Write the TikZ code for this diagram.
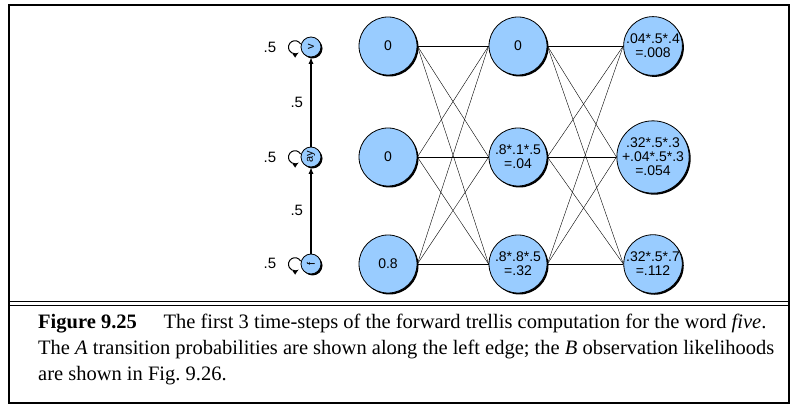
\documentclass[tikz,border=0pt]{standalone}
\usepackage{fontspec}
\setmainfont{Liberation Serif}
\newfontfamily\diagfont{Liberation Sans}
\usetikzlibrary{shadows}
\definecolor{cellblue}{RGB}{153,204,255}
\begin{document}
\begin{tikzpicture}[x=1pt,y=-1pt]
	\tikzset{
		basic/.style={circle,draw=black,fill=cellblue,thick,text centered,
			drop shadow={shadow xshift=1.5pt,shadow yshift=-1.5pt,opacity=1,fill=black},
			font=\diagfont\fontsize{14}{14}\selectfont,inner sep=0pt,align=center},
		bignode/.style={basic,minimum size=58pt},
		smallnode/.style={basic,minimum size=20pt,font=\diagfont\fontsize{11}{11}\selectfont},
		edge/.style={black,line width=0.4pt},
		sarrow/.style={->,>={latex},line width=1.2pt},
		prob/.style={font=\diagfont\fontsize{15}{15}\selectfont}
	}
	\useasboundingbox (0,0) rectangle (800,411);
	\draw[line width=1.5pt] (9,5) rectangle (789,403);
	\draw[line width=1pt] (9,302) -- (789,302);
	\draw[line width=1pt] (9,306) -- (789,306);

	% states
	\node[smallnode] (V)  at (311,47)  {\rotatebox{90}{v}};
	\node[smallnode] (AY) at (311,157) {\rotatebox{90}{ay}};
	\node[smallnode] (F)  at (311,264) {\rotatebox{90}{f}};
	\foreach \s in {V,AY,F}
		\draw[sarrow,line width=1pt] (\s.west) ++(0,-3) arc (-30:-305:6.5);
	\node[prob] at (270,47)  {.5};
	\node[prob] at (270,157) {.5};
	\node[prob] at (270,263) {.5};
	\draw[sarrow] (F) -- (AY) node[prob,midway,left=4pt]{.5};
	\draw[sarrow] (AY) -- (V) node[prob,midway,left=4pt]{.5};

	% trellis
	\node[bignode] (a1) at (388,46)  {0};
	\node[bignode] (b1) at (388,157) {0};
	\node[bignode] (c1) at (388,264) {0.8};
	\node[bignode] (a2) at (518,46)  {0};
	\node[bignode] (b2) at (518,157) {.8*.1*.5\\=.04};
	\node[bignode] (c2) at (518,264) {.8*.8*.5\\=.32};
	\node[bignode] (a3) at (653,46)  {.04*.5*.4\\=.008};
	\node[bignode] (b3) at (653,157) {.32*.5*.3\\+.04*.5*.3\\=.054};
	\node[bignode] (c3) at (653,264) {.32*.5*.7\\=.112};
	\foreach \i/\j in {1/2,2/3}
		\foreach \p in {a,b,c}
			\foreach \q in {a,b,c}
				\draw[edge] (\p\i.east) -- (\q\j.west);

	% caption
	\node[anchor=north west,align=left,inner sep=0pt,
		font=\fontsize{20.5}{26}\selectfont] (cap) at (38,314)
		{\textbf{Figure 9.25}\hspace{1.3em}The first 3 time-steps of the forward trellis computation for the word \textit{five}.\\
		The \textit{A} transition probabilities are shown along the left edge; the \textit{B} observation likelihoods\\
		are shown in Fig.~9.26.};
\end{tikzpicture}
\end{document}
